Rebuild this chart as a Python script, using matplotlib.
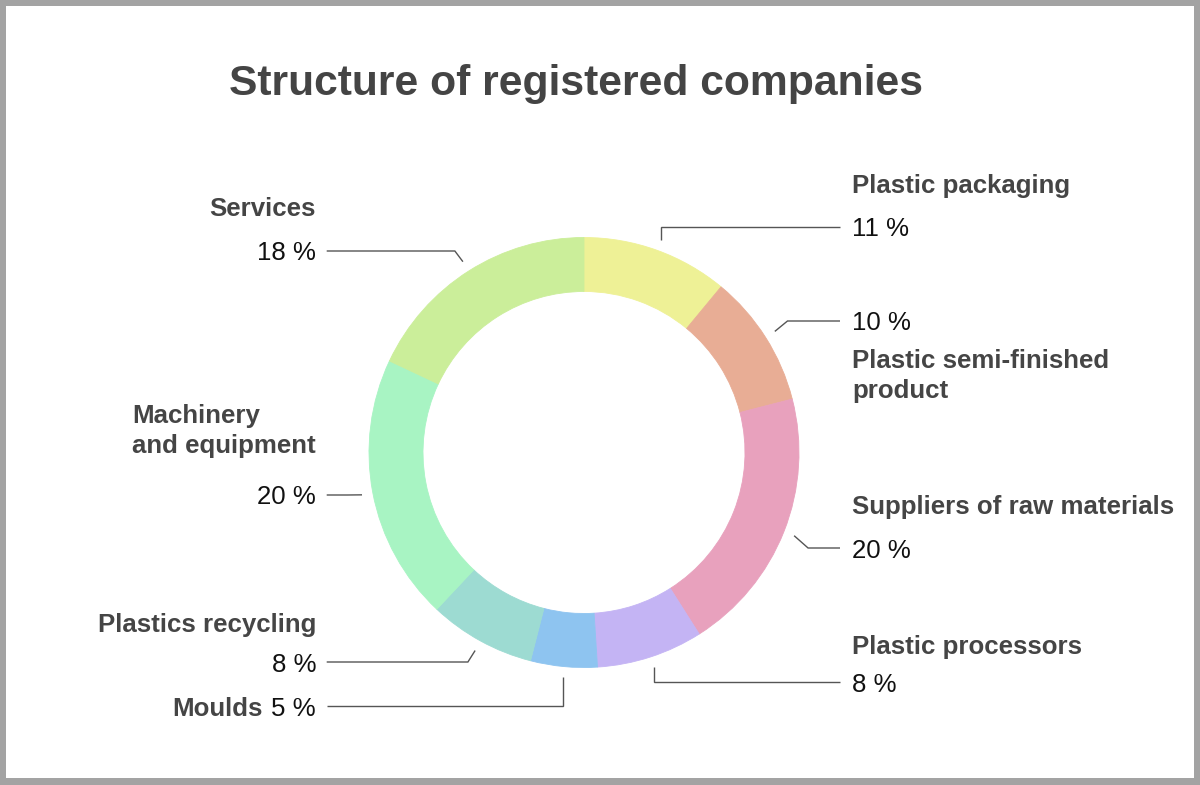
import numpy as np
import matplotlib
matplotlib.use("Agg")
import matplotlib.pyplot as plt
from matplotlib.patches import Rectangle

# ---------------- data ----------------
categories = ["Plastic packaging", "Plastic semi-finished\nproduct",
              "Suppliers of raw materials", "Plastic processors", "Moulds",
              "Plastics recycling", "Machinery\nand equipment", "Services"]
shares = [11, 10, 20, 8, 5, 8, 20, 18]
colors = ["#EEF196", "#E8AD95", "#E8A1BD", "#C4B4F4", "#8EC4F0",
          "#9DDBD2", "#A8F4C3", "#CBEE9A"]
title = "Structure of registered companies"

# ---------------- layout (pixels, y from top) ----------------
W, H = 1200, 785
CX, CY, R_OUT, RING = 584, 452.5, 215, 54
side = ["R", "R", "R", "R", "L", "L", "L", "L"]
pct_line_y = [226.7, 321, 548, 682.3, 706, 662, 495, 251]     # leader line / percent row
name_pos = ["above", "below", "above", "above", "inline", "above", "above", "above"]
name_gap = [43, 37.6, 43.7, 38, 0, 39.4, 51, 45]
X_RIGHT_LINE_END, X_RIGHT_TEXT = 840, 852
X_LEFT_LINE_END, X_LEFT_TEXT = 326.7, 316
LINE_STEP = 30

FONT = "Liberation Sans"
FS = 18.6
NAME_COLOR = "#454545"

fig = plt.figure(figsize=(W / 100, H / 100), dpi=100)
fig.patch.set_facecolor("#A3A3A3")
ax = fig.add_axes([0, 0, 1, 1])
ax.set_xlim(0, W)
ax.set_ylim(0, H)
ax.axis("off")

def py(y):
    return H - y

# white card
ax.add_patch(Rectangle((6, py(778.3)), 1194.3 - 6, 778.3 - 6, facecolor="white",
                       edgecolor="none", zorder=0))

# donut
wedges, _ = ax.pie(shares, colors=colors, center=(CX, py(CY)), radius=R_OUT,
                   startangle=90, counterclock=False,
                   wedgeprops=dict(width=RING, linewidth=0.6, antialiased=True),
                   frame=False)
for w in wedges:
    w.set_edgecolor(w.get_facecolor())
ax.set_xlim(0, W)
ax.set_ylim(0, H)
ax.set_aspect("equal")

# title
ax.text(576, py(95), title, ha="center", va="baseline", fontsize=30.7,
        fontweight="bold", color="#444444", family=FONT)

renderer = fig.canvas.get_renderer()

def text_width(s, **kw):
    t = ax.text(0, 0, s, fontsize=FS, family=FONT, **kw)
    w = t.get_window_extent(renderer=renderer).width
    t.remove()
    return w

# labels and leader lines
total = float(sum(shares))
cum = np.cumsum([0] + shares[:-1])
for i, (cat, val) in enumerate(zip(categories, shares)):
    mid = (cum[i] + val / 2) / total * 2 * np.pi      # clockwise from top
    dx, dy = np.sin(mid), np.cos(mid)
    a_x = CX + 226 * dx
    a_y = py(CY) + 226 * dy
    ex = a_x if abs(dx) < 0.4 else a_x + 15 * dx
    ly = py(pct_line_y[i])
    end_x = X_RIGHT_LINE_END if side[i] == "R" else X_LEFT_LINE_END
    ax.plot([a_x, ex, end_x], [a_y, ly, ly], color="#555555", lw=1.0,
            solid_capstyle="butt", solid_joinstyle="miter", zorder=3)

    pct = f"{val} %"
    base = pct_line_y[i] + 9.5
    if side[i] == "R":
        ax.text(X_RIGHT_TEXT, py(base), pct, ha="left", va="baseline",
                fontsize=FS, color="#111111", family=FONT)
    else:
        ax.text(X_LEFT_TEXT, py(base), pct, ha="right", va="baseline",
                fontsize=FS, color="#111111", family=FONT)

    if name_pos[i] == "inline":
        pw = text_width(pct)
        ax.text(X_LEFT_TEXT - pw - 9, py(base), cat, ha="right", va="baseline",
                fontsize=FS, fontweight="bold", color=NAME_COLOR, family=FONT)
        continue
    lines = cat.split("\n")
    if name_pos[i] == "above":
        first_base = base - name_gap[i] - LINE_STEP * (len(lines) - 1)
    else:
        first_base = base + name_gap[i]
    if side[i] == "R":
        x0 = X_RIGHT_TEXT
    else:
        maxw = max(text_width(ln, fontweight="bold") for ln in lines)
        x0 = X_LEFT_TEXT - maxw
    for k, ln in enumerate(lines):
        ax.text(x0, py(first_base + LINE_STEP * k), ln, ha="left", va="baseline",
                fontsize=FS, fontweight="bold", color=NAME_COLOR, family=FONT)

fig.savefig("out.png", dpi=100, facecolor=fig.get_facecolor())
